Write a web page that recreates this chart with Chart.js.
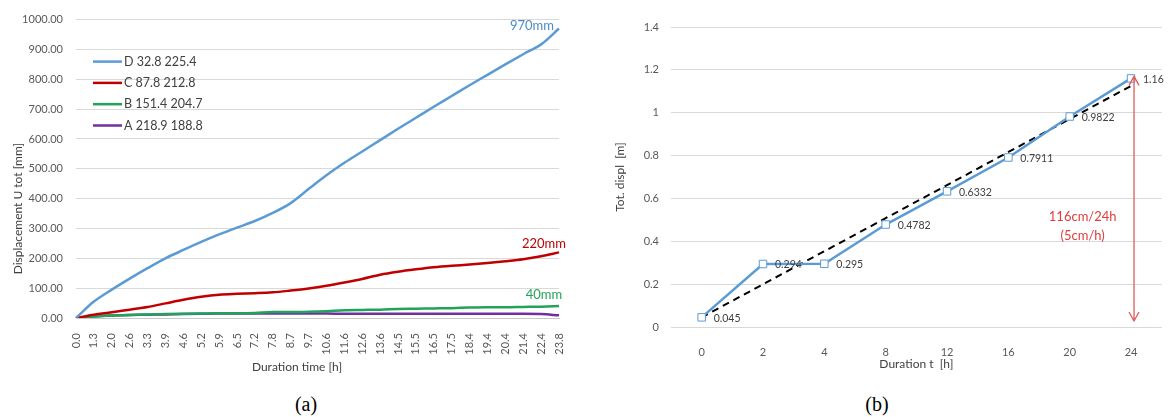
<!DOCTYPE html>
<html>
<head>
<meta charset="utf-8">
<script src="https://cdn.jsdelivr.net/npm/chart.js@4.4.1/dist/chart.umd.min.js"></script>
<style>
  html, body { margin: 0; padding: 0; background: #fff; }
  #wrap { position: relative; width: 1168px; height: 417px; overflow: hidden; background: #fff; }
  canvas { position: absolute; top: 0; }
  #chartA { left: 0; }
  #chartB { left: 600px; }
  .cap { position: absolute; top: 392px; width: 60px; text-align: center; line-height: 24px;
         font-family: 'Liberation Serif', 'Times New Roman', serif; font-size: 20px; color: #000; }
</style>
</head>
<body>
<div id="wrap">
  <canvas id="chartA" width="580" height="380"></canvas>
  <canvas id="chartB" width="568" height="380"></canvas>
  <div class="cap" style="left:276px">(a)</div>
  <div class="cap" style="left:847px">(b)</div>
</div>
<script>
// ---- (a) displacement of the four points over time ----
const timeLabels = ['0.0','1.3','2.0','2.6','3.3','3.9','4.6','5.2','5.9','6.5','7.2','7.8','8.7','9.7',
                    '10.6','11.6','12.6','13.6','14.5','15.5','16.5','17.5','18.4','19.4','20.4','21.4','22.4','23.8'];
const seriesNames = ['D 32.8 225.4', 'C 87.8 212.8', 'B 151.4 204.7', 'A 218.9 188.8'];
const dispD = [0, 55, 95, 132, 167, 200, 228, 255, 280, 303, 325, 352, 385, 432, 478, 520, 558, 596, 634, 671, 708, 744, 780, 815, 850, 884, 917, 970];
const dispC = [0, 11, 19, 28, 37, 49, 61, 71, 78, 81, 83, 86, 92, 99, 108, 119, 131, 145, 155, 163, 170, 175, 179, 184, 190, 197, 207, 220];
const dispB = [0, 5, 8, 10, 12, 13, 14, 15, 16, 16, 17, 20, 20, 21, 23, 26, 27, 28, 30, 31, 32, 33, 35, 36, 36, 37, 38, 40];
const dispA = [0, 5, 8, 10, 11, 12, 13, 14, 15, 15, 15, 15, 15, 15, 15, 14, 14, 14, 14, 14, 14, 14, 14, 14, 14, 14, 13, 9];
const dispTicks = { min: 0, max: 1000, step: 100 };

// ---- (b) total displacement at the readings ----
const hourLabels = ['0', '2', '4', '8', '12', '16', '20', '24'];
const totDispl = [0.045, 0.294, 0.295, 0.4782, 0.6332, 0.7911, 0.9822, 1.16];
const trendEnds = [0.045, null, null, null, null, null, null, 1.125];
const displTicks = { min: 0, max: 1.4, step: 0.2 };

const FONT = "Lato, 'Open Sans', sans-serif";
const TICK_COLOR = '#595959';
const TEXT_COLOR = '#404040';
const GRID_COLOR = '#D9D9D9';
const colors = { D: '#5B9BD5', C: '#C00000', B: '#22A35A', A: '#7030A0' };

// legend drawn inside the plot, upper left
const insideLegend = {
  id: 'insideLegend',
  afterDatasetsDraw(chart) {
    const { ctx, chartArea } = chart;
    ctx.save();
    ctx.font = '12.5px ' + FONT;
    ctx.textBaseline = 'middle';
    ctx.textAlign = 'left';
    chart.data.datasets.forEach((ds, i) => {
      const y = chartArea.top + 42 + i * 21.3;
      ctx.strokeStyle = ds.borderColor;
      ctx.lineWidth = 2.5;
      ctx.beginPath();
      ctx.moveTo(chartArea.left + 17, y);
      ctx.lineTo(chartArea.left + 46, y);
      ctx.stroke();
      ctx.fillStyle = TEXT_COLOR;
      ctx.fillText(ds.label, chartArea.left + 48, y);
    });
    ctx.restore();
  }
};

// final value written next to the end of the D, C and B curves
const endValues = {
  id: 'endValues',
  afterDatasetsDraw(chart) {
    const { ctx } = chart;
    ctx.save();
    ctx.font = '13px ' + FONT;
    ctx.textBaseline = 'middle';
    chart.data.datasets.forEach((ds, i) => {
      if (!ds.endLabel) return;
      const meta = chart.getDatasetMeta(i);
      const last = meta.data[meta.data.length - 1];
      const v = ds.data[ds.data.length - 1];
      ctx.fillStyle = ds.endLabel.color;
      ctx.textAlign = ds.endLabel.align;
      ctx.fillText(v + 'mm', last.x + ds.endLabel.dx, last.y + ds.endLabel.dy);
    });
    ctx.restore();
  }
};

// axis captions of chart (a)
const captionsA = {
  id: 'captionsA',
  afterDraw(chart) {
    const { ctx, chartArea } = chart;
    ctx.save();
    ctx.font = '12px ' + FONT;
    ctx.fillStyle = TEXT_COLOR;
    ctx.textAlign = 'center';
    ctx.textBaseline = 'middle';
    ctx.fillText('Duration time [h]', chartArea.left + 221, chartArea.bottom + 49);
    ctx.translate(18, chartArea.top + 189);
    ctx.rotate(-Math.PI / 2);
    ctx.fillText('Displacement U tot [mm]', 0, 0);
    ctx.restore();
  }
};

function lineSet(label, data, color, endLabel) {
  return {
    label, data, borderColor: color, backgroundColor: color, borderWidth: 2.5,
    pointRadius: 0, cubicInterpolationMode: 'monotone', endLabel
  };
}

new Chart(document.getElementById('chartA'), {
  type: 'line',
  data: {
    labels: timeLabels,
    datasets: [
      lineSet(seriesNames[0], dispD, colors.D, { color: '#4A8CC8', align: 'right', dx: -5, dy: -3 }),
      lineSet(seriesNames[1], dispC, colors.C, { color: '#C00000', align: 'center', dx: -15, dy: -9 }),
      lineSet(seriesNames[2], dispB, colors.B, { color: '#22A35A', align: 'center', dx: -15, dy: -11 }),
      lineSet(seriesNames[3], dispA, colors.A, null)
    ]
  },
  options: {
    responsive: false,
    animation: false,
    layout: { padding: { top: 19, right: 21, left: 0, bottom: 0 } },
    plugins: { legend: { display: false }, tooltip: { enabled: false } },
    scales: {
      x: {
        type: 'category',
        offset: false,
        grid: { display: false },
        border: { display: true, color: '#C8C8C8', width: 1 },
        ticks: { autoSkip: false, minRotation: 90, maxRotation: 90, padding: 7,
                 font: { family: FONT, size: 11 }, color: TICK_COLOR },
        afterFit(s) { s.height = 62; }
      },
      y: {
        min: dispTicks.min, max: dispTicks.max,
        grid: { color: GRID_COLOR, drawTicks: false },
        border: { display: false },
        ticks: { stepSize: dispTicks.step, padding: 13, callback: v => v.toFixed(2),
                 font: { family: FONT, size: 11 }, color: TICK_COLOR },
        afterFit(s) { s.width = 76; }
      }
    }
  },
  plugins: [insideLegend, endValues, captionsA]
});

// values written to the right of each marker in chart (b)
const pointValues = {
  id: 'pointValues',
  afterDatasetsDraw(chart) {
    const { ctx } = chart;
    const meta = chart.getDatasetMeta(0);
    ctx.save();
    ctx.font = '10.5px ' + FONT;
    ctx.fillStyle = TEXT_COLOR;
    ctx.textAlign = 'left';
    ctx.textBaseline = 'middle';
    meta.data.forEach((pt, i) => {
      ctx.fillText(String(chart.data.datasets[0].data[i]), pt.x + 12, pt.y + 1);
    });
    ctx.restore();
  }
};

// double-headed rate arrow and its note
const rateNote = {
  id: 'rateNote',
  afterDatasetsDraw(chart) {
    const { ctx, scales } = chart;
    const xs = scales.x, ys = scales.y;
    const x = xs.getPixelForValue(7) + 3;
    const top = ys.getPixelForValue(totDispl[totDispl.length - 1]) - 2;
    const bottom = ys.getPixelForValue(0) - 6;
    ctx.save();
    ctx.strokeStyle = '#E05A5A';
    ctx.lineWidth = 1.3;
    ctx.beginPath();
    ctx.moveTo(x, top); ctx.lineTo(x, bottom);
    ctx.moveTo(x - 5, top + 9); ctx.lineTo(x, top); ctx.lineTo(x + 5, top + 9);
    ctx.moveTo(x - 5, bottom - 9); ctx.lineTo(x, bottom); ctx.lineTo(x + 5, bottom - 9);
    ctx.stroke();
    ctx.fillStyle = '#E03C3C';
    ctx.font = '13px ' + FONT;
    ctx.textAlign = 'center';
    ctx.textBaseline = 'middle';
    const tx = xs.getPixelForValue(6) + 13;
    ctx.fillText('116cm/24h', tx, ys.getPixelForValue(0.514));
    ctx.fillText('(5cm/h)', tx, ys.getPixelForValue(0.424));
    ctx.restore();
  }
};

new Chart(document.getElementById('chartB'), {
  type: 'line',
  data: {
    labels: hourLabels,
    datasets: [
      {
        label: 'Tot. displ', data: totDispl,
        borderColor: '#5B9BD5', borderWidth: 2.5, tension: 0,
        pointStyle: 'rect', pointRadius: 5.3, pointBorderWidth: 1,
        pointBackgroundColor: '#FFFFFF', pointBorderColor: '#5B9BD5'
      },
      {
        label: 'Linear trend', data: trendEnds, spanGaps: true,
        borderColor: '#000000', borderWidth: 2, borderDash: [7, 5], pointRadius: 0
      }
    ]
  },
  options: {
    responsive: false,
    animation: false,
    layout: { padding: { top: 27, right: 3, left: 0, bottom: 0 } },
    plugins: { legend: { display: false }, tooltip: { enabled: false } },
    scales: {
      x: {
        type: 'category',
        offset: true,
        grid: { display: false },
        border: { display: false },
        ticks: { padding: 11, font: { family: FONT, size: 11 }, color: TICK_COLOR },
        title: { display: true, text: 'Duration t  [h]', color: TEXT_COLOR,
                 font: { family: FONT, size: 12 }, padding: { top: 0, bottom: 9 } },
        afterFit(s) { s.height = 53; }
      },
      y: {
        min: displTicks.min, max: displTicks.max,
        grid: { color: GRID_COLOR, drawTicks: false },
        border: { display: false },
        ticks: { stepSize: displTicks.step, padding: 12,
                 callback: v => String(Number(v.toFixed(1))),
                 font: { family: FONT, size: 11 }, color: TICK_COLOR },
        title: { display: true, text: 'Tot. displ  [m]', color: TEXT_COLOR,
                 font: { family: FONT, size: 12 }, padding: { top: 13, bottom: 0 } },
        afterFit(s) { s.width = 71; }
      }
    }
  },
  plugins: [pointValues, rateNote]
});
</script>
</body>
</html>
